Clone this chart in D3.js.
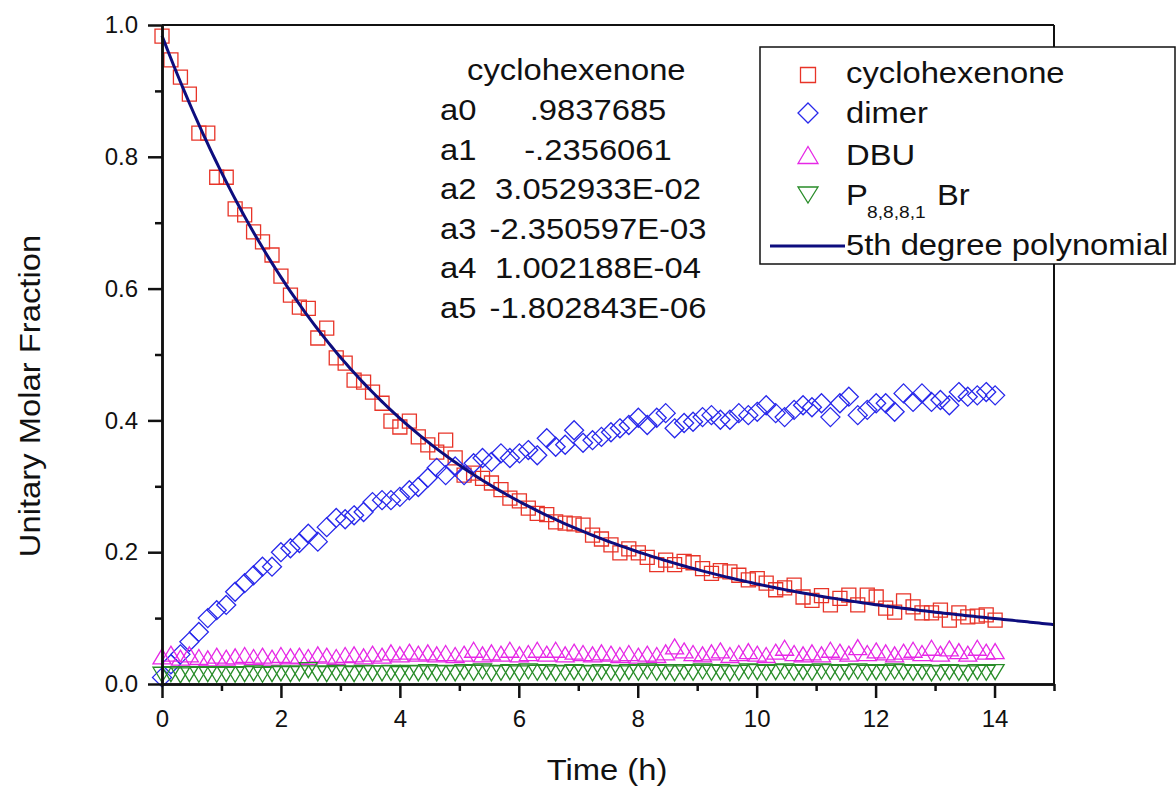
<!DOCTYPE html>
<html>
<head>
<meta charset="utf-8">
<script src="https://cdn.jsdelivr.net/npm/d3@7"></script>
<style>
  body { margin: 0; background: #fff; }
  text { font-family: "Liberation Sans", Arial, sans-serif; fill: #111; }
</style>
</head>
<body>
<div id="chart"></div>
<script>
// sampling times (h)
var times = [0, 0.15, 0.31, 0.46, 0.62, 0.77, 0.92, 1.08, 1.23, 1.39,
  1.54, 1.69, 1.85, 2.00, 2.16, 2.31, 2.46, 2.62, 2.77, 2.93,
  3.08, 3.23, 3.39, 3.54, 3.70, 3.85, 4.00, 4.16, 4.31, 4.47,
  4.62, 4.77, 4.93, 5.08, 5.24, 5.39, 5.54, 5.70, 5.85, 6.01,
  6.16, 6.31, 6.47, 6.62, 6.78, 6.93, 7.08, 7.24, 7.39, 7.55,
  7.70, 7.85, 8.01, 8.16, 8.32, 8.47, 8.62, 8.78, 8.93, 9.09,
  9.24, 9.39, 9.55, 9.70, 9.86, 10.01, 10.16, 10.32, 10.47, 10.63,
  10.78, 10.93, 11.09, 11.24, 11.40, 11.55, 11.70, 11.86, 12.01, 12.17,
  12.32, 12.47, 12.63, 12.78, 12.94, 13.09, 13.24, 13.40, 13.55, 13.71,
  13.86, 14.01];

var cyclohexenone = [0.983, 0.947, 0.921, 0.895, 0.836, 0.836, 0.769, 0.769, 0.721, 0.712,
  0.686, 0.671, 0.651, 0.619, 0.590, 0.572, 0.570, 0.525, 0.540, 0.495,
  0.487, 0.461, 0.458, 0.443, 0.426, 0.399, 0.390, 0.399, 0.375, 0.363,
  0.352, 0.370, 0.343, 0.317, 0.320, 0.312, 0.305, 0.295, 0.282, 0.278,
  0.267, 0.259, 0.257, 0.246, 0.244, 0.243, 0.241, 0.226, 0.220, 0.211,
  0.199, 0.205, 0.199, 0.192, 0.181, 0.188, 0.181, 0.186, 0.184, 0.175,
  0.168, 0.172, 0.170, 0.165, 0.158, 0.160, 0.153, 0.143, 0.146, 0.150,
  0.132, 0.127, 0.134, 0.120, 0.130, 0.135, 0.120, 0.135, 0.132, 0.115,
  0.109, 0.126, 0.117, 0.108, 0.108, 0.112, 0.097, 0.108, 0.102, 0.103,
  0.105, 0.097];

var dimer = [0.010, 0.030, 0.045, 0.064, 0.079, 0.100, 0.112, 0.120, 0.140, 0.153,
  0.165, 0.178, 0.178, 0.200, 0.206, 0.214, 0.228, 0.216, 0.238, 0.252,
  0.250, 0.256, 0.261, 0.276, 0.279, 0.279, 0.284, 0.294, 0.299, 0.313,
  0.328, 0.317, 0.330, 0.317, 0.335, 0.343, 0.337, 0.350, 0.343, 0.350,
  0.355, 0.347, 0.373, 0.360, 0.363, 0.385, 0.366, 0.370, 0.375, 0.382,
  0.388, 0.393, 0.404, 0.393, 0.404, 0.411, 0.388, 0.396, 0.398, 0.405,
  0.408, 0.401, 0.401, 0.411, 0.408, 0.413, 0.423, 0.411, 0.405, 0.416,
  0.423, 0.420, 0.426, 0.405, 0.426, 0.436, 0.408, 0.416, 0.426, 0.426,
  0.413, 0.441, 0.428, 0.441, 0.428, 0.431, 0.423, 0.443, 0.436, 0.438,
  0.443, 0.438];

var dbu = [0.042, 0.046, 0.040, 0.045, 0.041, 0.039, 0.043, 0.040, 0.042, 0.044,
  0.041, 0.043, 0.040, 0.044, 0.042, 0.043, 0.041, 0.045, 0.043, 0.041,
  0.044, 0.045, 0.042, 0.046, 0.043, 0.048, 0.045, 0.049, 0.046, 0.048,
  0.045, 0.047, 0.044, 0.046, 0.052, 0.045, 0.048, 0.046, 0.052, 0.045,
  0.047, 0.052, 0.046, 0.052, 0.045, 0.049, 0.047, 0.045, 0.048, 0.046,
  0.044, 0.047, 0.043, 0.046, 0.044, 0.048, 0.057, 0.051, 0.047, 0.045,
  0.048, 0.051, 0.044, 0.047, 0.050, 0.046, 0.044, 0.049, 0.055, 0.047,
  0.045, 0.048, 0.045, 0.052, 0.049, 0.046, 0.056, 0.047, 0.051, 0.048,
  0.045, 0.049, 0.052, 0.047, 0.055, 0.046, 0.054, 0.050, 0.046, 0.055,
  0.049, 0.050];

var p8881br = [0.014, 0.015, 0.013, 0.015, 0.014, 0.015, 0.014, 0.015, 0.014, 0.015,
  0.016, 0.014, 0.015, 0.016, 0.015, 0.016, 0.021, 0.016, 0.015, 0.017,
  0.016, 0.015, 0.017, 0.016, 0.016, 0.017, 0.015, 0.017, 0.016, 0.018,
  0.016, 0.017, 0.016, 0.018, 0.017, 0.019, 0.016, 0.017, 0.018, 0.016,
  0.019, 0.017, 0.018, 0.016, 0.017, 0.018, 0.017, 0.016, 0.018, 0.017,
  0.016, 0.018, 0.017, 0.019, 0.017, 0.018, 0.016, 0.018, 0.017, 0.019,
  0.017, 0.018, 0.016, 0.017, 0.019, 0.018, 0.017, 0.018, 0.019, 0.017,
  0.018, 0.017, 0.019, 0.018, 0.017, 0.018, 0.019, 0.017, 0.018, 0.017,
  0.019, 0.018, 0.017, 0.018, 0.016, 0.017, 0.018, 0.017, 0.016, 0.018,
  0.017, 0.018];

// 5th degree polynomial fit a0..a5, as printed on the chart
var fitCoef = [0.9837685, -0.2356061, 3.052933E-02, -2.350597E-03, 1.002188E-04, -1.802843E-06];
var fitLabels = ["a0", "a1", "a2", "a3", "a4", "a5"];
var fitText = [".9837685", "-.2356061", "3.052933E-02", "-2.350597E-03", "1.002188E-04", "-1.802843E-06"];

var xTicks = [0, 2, 4, 6, 8, 10, 12, 14];
var xMinor = [1, 3, 5, 7, 9, 11, 13, 15];
var yTicks = [0, 0.2, 0.4, 0.6, 0.8, 1.0];
var yMinor = [0.1, 0.3, 0.5, 0.7, 0.9];

var width = 1176, height = 787;
var stretch = 1.13; // the source text is a bit wider than Arial

var svg = d3.select("#chart").append("svg")
  .attr("width", width).attr("height", height);

var x = d3.scaleLinear().domain([0, 15]).range([162, 1054]);
var y = d3.scaleLinear().domain([0, 1]).range([684, 25]);

// symbol shapes (centred on their box)
function squarePath(s) { var h = s / 2; return "M" + (-h) + "," + (-h) + "h" + s + "v" + s + "h" + (-s) + "Z"; }
function diamondPath(s) { var h = s / 2; return "M0," + (-h) + "L" + h + ",0L0," + h + "L" + (-h) + ",0Z"; }
function triUpPath(w, ht) { return "M0," + (-ht / 2) + "L" + (w / 2) + "," + (ht / 2) + "L" + (-w / 2) + "," + (ht / 2) + "Z"; }
function triDownPath(w, ht) { return "M0," + (ht / 2) + "L" + (w / 2) + "," + (-ht / 2) + "L" + (-w / 2) + "," + (-ht / 2) + "Z"; }

var series = [
  { name: "cyclohexenone", values: cyclohexenone, color: "rgb(232,52,40)", path: squarePath(14), legPath: squarePath(15) },
  { name: "dimer", values: dimer, color: "rgb(40,40,235)", path: diamondPath(19), legPath: diamondPath(20) },
  { name: "DBU", values: dbu, color: "rgb(230,40,230)", path: triUpPath(18, 15), legPath: triUpPath(20, 17) },
  { name: "P", values: p8881br, color: "rgb(40,140,40)", path: triDownPath(18, 15), legPath: triDownPath(20, 16) }
];

var plot = svg.append("g");
series.forEach(function (s) {
  plot.append("g").selectAll("path")
    .data(s.values)
    .enter().append("path")
    .attr("d", s.path)
    .attr("transform", function (d, i) { return "translate(" + x(times[i]) + "," + y(d) + ")"; })
    .attr("fill", "none")
    .attr("stroke", s.color)
    .attr("stroke-width", 1.3);
});

// fitted curve from the printed coefficients
function poly(t) {
  var v = 0;
  for (var k = fitCoef.length - 1; k >= 0; k--) v = v * t + fitCoef[k];
  return v;
}
var fitT = d3.range(0, 15.001, 0.05);
plot.append("path")
  .datum(fitT)
  .attr("d", d3.line().x(function (t) { return x(t); }).y(function (t) { return y(poly(t)); }))
  .attr("fill", "none")
  .attr("stroke", "#0d0d7e")
  .attr("stroke-width", 3);

// frame
svg.append("line").attr("x1", 162).attr("x2", 1054).attr("y1", 25).attr("y2", 25)
  .attr("stroke", "#111").attr("stroke-width", 2);
svg.append("line").attr("x1", 1054).attr("x2", 1054).attr("y1", 25).attr("y2", 684)
  .attr("stroke", "#111").attr("stroke-width", 2);

// axes
var xAxis = svg.append("g").attr("transform", "translate(0,684)")
  .call(d3.axisBottom(x).tickValues(xTicks).tickFormat(d3.format("d")).tickSize(14).tickSizeOuter(0).tickPadding(12));
svg.append("g").attr("transform", "translate(0,684)")
  .call(d3.axisBottom(x).tickValues(xMinor).tickFormat("").tickSize(7).tickSizeOuter(0));
var yAxis = svg.append("g").attr("transform", "translate(162,0)")
  .call(d3.axisLeft(y).tickValues(yTicks).tickFormat(d3.format(".1f")).tickSize(14).tickSizeOuter(0).tickPadding(10));
svg.append("g").attr("transform", "translate(162,0)")
  .call(d3.axisLeft(y).tickValues(yMinor).tickFormat("").tickSize(7).tickSizeOuter(0));

svg.selectAll(".domain").attr("stroke", "#111").attr("stroke-width", 2.5);
svg.selectAll(".tick line").attr("stroke", "#111").attr("stroke-width", 2.5);
svg.selectAll(".tick text").attr("font-size", 24).attr("fill", "#111")
  .style("font-family", "'Liberation Sans', Arial, sans-serif");

// wide text helper
function wideText(parent, px, py, str, size, anchor, rot) {
  return parent.append("text")
    .attr("transform", "translate(" + px + "," + py + ")" + (rot ? " rotate(" + rot + ")" : "") + " scale(" + stretch + ",1)")
    .attr("text-anchor", anchor || "start")
    .attr("font-size", size)
    .text(str);
}

wideText(svg, 607, 780, "Time (h)", 29, "middle");
wideText(svg, 40, 396, "Unitary Molar Fraction", 29, "middle", -90);

// coefficient block
wideText(svg, 467, 80, "cyclohexenone", 29, "start");
fitLabels.forEach(function (lab, i) {
  var yy = 120 + i * 39.6;
  wideText(svg, 440, yy, lab, 29, "start");
  wideText(svg, 598, yy, fitText[i], 29, "middle");
});

// legend
var leg = svg.append("g");
leg.append("rect").attr("x", 760).attr("y", 47).attr("width", 415).attr("height", 217)
  .attr("fill", "#fff").attr("stroke", "#111").attr("stroke-width", 1.5);
var legY = [75, 113, 155, 195];
series.forEach(function (s, i) {
  leg.append("path").attr("d", s.legPath)
    .attr("transform", "translate(808," + legY[i] + ")")
    .attr("fill", "none").attr("stroke", s.color).attr("stroke-width", 1.3);
});
wideText(leg, 846, 83, "cyclohexenone", 29);
wideText(leg, 846, 123, "dimer", 29);
wideText(leg, 846, 165, "DBU", 29);
wideText(leg, 846, 205, "P", 29);
wideText(leg, 867, 218, "8,8,8,1", 17);
wideText(leg, 937, 205, "Br", 29);
leg.append("line").attr("x1", 770).attr("x2", 845).attr("y1", 246).attr("y2", 246)
  .attr("stroke", "#0d0d7e").attr("stroke-width", 3);
wideText(leg, 846, 255, "5th degree polynomial", 29);
</script>
</body>
</html>
